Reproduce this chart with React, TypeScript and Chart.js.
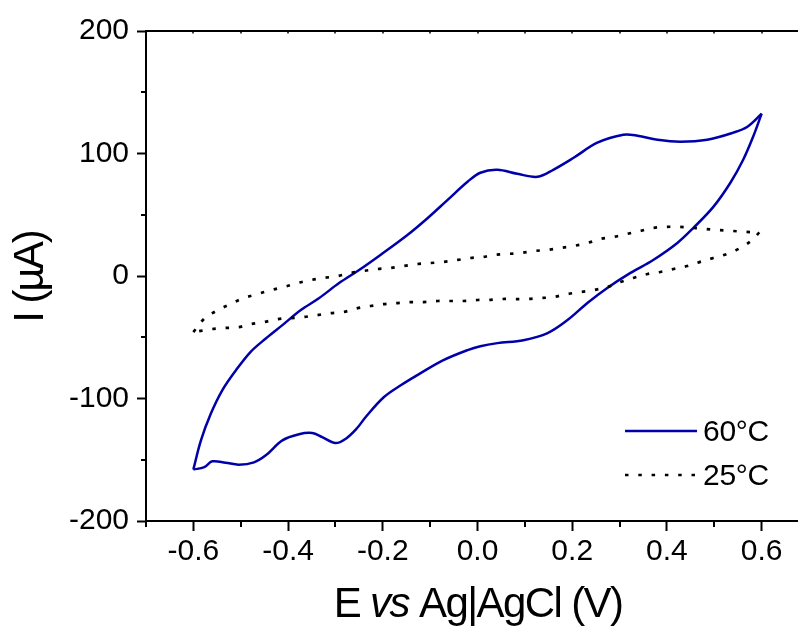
import React, { useEffect, useRef } from 'react';
import { Chart, registerables } from 'chart.js';

Chart.register(...registerables);

// ---- data ----
const xTickValues = [-0.6, -0.4, -0.2, 0, 0.2, 0.4, 0.6];
const xMinorTicks = [-0.7, -0.5, -0.3, -0.1, 0.1, 0.3, 0.5, 0.7];
const yTickValues = [-200, -100, 0, 100, 200];
const yMinorTicks = [-150, -50, 50, 150];

const seriesLabels = ['60°C', '25°C'];
const xTitleParts = ['E ', 'vs', ' Ag|AgCl (V)'];
const yTitle = 'I (µA)';

// 60 °C cyclic voltammogram: forward scan (-0.6 -> 0.6 V)
const hotFwdE = [
  -0.6, -0.584, -0.563, -0.539, -0.51, -0.479, -0.447, -0.412, -0.373, -0.335,
  -0.293, -0.25, -0.205, -0.148, -0.105, -0.063, -0.021, 0.006, 0.042, 0.084,
  0.127, 0.16, 0.203, 0.253, 0.308, 0.338, 0.38, 0.428, 0.485, 0.54,
  0.57, 0.6,
];
const hotFwdI = [
  -158, -134.2, -112.3, -93.3, -76.9, -61.9, -51.0, -40.1, -27.8, -18.2,
  -6.0, 4.9, 17.2, 33.5, 47.4, 62.2, 76.9, 84.3, 86.7, 83.4,
  81.0, 86.7, 96.5, 108.8, 115.3, 114.5, 111.2, 109.6, 111.2, 117.0,
  121.9, 132.5,
];
// 60 °C reverse scan (0.6 -> -0.6 V)
const hotRevE = [
  0.6, 0.582, 0.561, 0.534, 0.498, 0.456, 0.422, 0.371, 0.323, 0.274, 0.232,
  0.19, 0.148, 0.097, 0.042, 0.006, -0.021, -0.072, -0.12, -0.162, -0.198,
  -0.236, -0.255, -0.278, -0.3, -0.328, -0.349, -0.377, -0.412, -0.447, -0.472,
  -0.504, -0.532, -0.56, -0.577, -0.6,
];
const hotRevI = [
  132.5, 113.7, 94.9, 76.1, 56.4, 39.3, 27.0, 13.1, 2.5, -9.8, -22.1,
  -36.0, -46.6, -52.4, -54.8, -57.3, -60.5, -68.7, -79.3, -89.2, -99.0,
  -115.1, -124.5, -132.8, -136.4, -131.5, -128.2, -129.2, -134.2, -146.4, -152.1,
  -154, -152.4, -151.3, -156, -158,
];

// 25 °C forward scan
const coldFwdE = [
  -0.6, -0.576, -0.548, -0.52, -0.494, -0.464, -0.437, -0.409, -0.38, -0.352,
  -0.325, -0.295, -0.268, -0.241, -0.211, -0.184, -0.156, -0.127, -0.099, -0.072,
  -0.042, -0.015, 0.011, 0.034, 0.063, 0.091, 0.118, 0.148, 0.175, 0.203,
  0.232, 0.259, 0.287, 0.316, 0.344, 0.371, 0.397, 0.424, 0.454, 0.481,
  0.508, 0.538, 0.565, 0.595,
];
const coldFwdI = [
  -45.8, -34.5, -27.8, -22.6, -18.0, -14.7, -11.5, -9.0, -5.7, -3.3,
  -1.6, 0, 2.5, 4.1, 5.7, 6.5, 8.2, 9.8, 10.6, 11.5,
  13.1, 14.7, 15.5, 17.2, 18.0, 18.8, 20.4, 21.3, 22.9, 24.5,
  27.0, 30.3, 31.9, 34.4, 36.8, 39.3, 40.1, 40.1, 39.3, 38.4,
  37.6, 36.8, 36.0, 35.6,
];
// 25 °C reverse scan
const coldRevE = [
  0.595, 0.58, 0.555, 0.527, 0.498, 0.47, 0.443, 0.414, 0.386, 0.359, 0.329,
  0.302, 0.274, 0.245, 0.217, 0.19, 0.16, 0.133, 0.105, 0.076, 0.049,
  0.021, 0.0, -0.03, -0.057, -0.084, -0.114, -0.141, -0.169, -0.198, -0.226,
  -0.253, -0.283, -0.31, -0.338, -0.367, -0.395, -0.422, -0.451, -0.479, -0.504,
  -0.536, -0.563, -0.6,
];
const coldRevI = [
  35.6, 29.4, 22.9, 18.0, 14.7, 11.5, 8.2, 5.7, 3.3, 1.6, -1.6,
  -4.9, -9.0, -11.5, -13.1, -14.7, -17.2, -18.0, -18.8, -18.8, -18.8,
  -19.6, -19.6, -20.4, -20.4, -20.4, -21.3, -21.3, -22.1, -22.9, -24.5,
  -26.2, -29.4, -30.3, -31.9, -33.5, -34.4, -35.2, -37.6, -39.3, -41.7,
  -42.5, -43.4, -45.8,
];

const BLUE = 'rgb(0,0,170)';
const FONT = '"Liberation Sans", Arial, sans-serif';
const DOT_DASH = [3.5, 9.8];

const extrasPlugin = {
  id: 'extras',
  afterDraw(chart: any) {
    const { ctx, chartArea: ca } = chart;
    const x = chart.scales.x;
    const y = chart.scales.y;
    ctx.save();
    ctx.strokeStyle = '#000';
    ctx.lineWidth = 2;
    ctx.setLineDash([]);
    // top frame line
    ctx.beginPath();
    ctx.moveTo(ca.left - 1, ca.top);
    ctx.lineTo(ca.right + 2, ca.top);
    ctx.stroke();
    // minor x ticks
    for (const v of xMinorTicks) {
      const px = Math.round(x.getPixelForValue(v));
      ctx.beginPath();
      ctx.moveTo(px, ca.bottom);
      ctx.lineTo(px, ca.bottom + 6);
      ctx.stroke();
    }
    // tiny top ticks
    ctx.lineWidth = 1.5;
    for (const v of [...xTickValues, ...xMinorTicks]) {
      const px = Math.round(x.getPixelForValue(v));
      ctx.beginPath();
      ctx.moveTo(px, ca.top);
      ctx.lineTo(px, ca.top + 2.5);
      ctx.stroke();
    }
    ctx.lineWidth = 2;
    // minor y ticks
    for (const v of yMinorTicks) {
      const py = Math.round(y.getPixelForValue(v));
      ctx.beginPath();
      ctx.moveTo(ca.left, py);
      ctx.lineTo(ca.left - 5, py);
      ctx.stroke();
    }

    // y title (rotated)
    ctx.fillStyle = '#000';
    ctx.save();
    ctx.translate(31, 277);
    ctx.rotate(-Math.PI / 2);
    ctx.font = `42px ${FONT}`;
    (ctx as any).letterSpacing = '-2px';
    ctx.textAlign = 'center';
    ctx.textBaseline = 'middle';
    ctx.fillText(yTitle, 0, 0);
    ctx.restore();

    // x title with italic "vs"
    const fonts = [`42px ${FONT}`, `italic 42px ${FONT}`, `42px ${FONT}`];
    (ctx as any).letterSpacing = '-1.6px';
    let total = 0;
    const widths: number[] = [];
    xTitleParts.forEach((t, i) => {
      ctx.font = fonts[i];
      const w = ctx.measureText(t).width;
      widths.push(w);
      total += w;
    });
    let cx = 478 - total / 2;
    ctx.textAlign = 'left';
    ctx.textBaseline = 'alphabetic';
    xTitleParts.forEach((t, i) => {
      ctx.font = fonts[i];
      ctx.fillText(t, cx, 617);
      cx += widths[i];
    });
    (ctx as any).letterSpacing = '0px';

    // legend
    const rows = [
      { y: 431, color: BLUE, width: 2.5, dash: [] as number[] },
      { y: 475, color: '#000', width: 2.7, dash: DOT_DASH },
    ];
    rows.forEach((r, i) => {
      ctx.strokeStyle = r.color;
      ctx.lineWidth = r.width;
      ctx.setLineDash(r.dash);
      ctx.beginPath();
      ctx.moveTo(625, r.y);
      ctx.lineTo(697, r.y);
      ctx.stroke();
      ctx.setLineDash([]);
      ctx.font = `30px ${FONT}`;
      ctx.fillStyle = '#000';
      (ctx as any).letterSpacing = '-0.3px';
      ctx.fillText(seriesLabels[i], 703, r.y + 10);
      (ctx as any).letterSpacing = '0px';
    });
    ctx.restore();
  },
};

export default function App() {
  const ref = useRef<HTMLCanvasElement | null>(null);

  useEffect(() => {
    if (!ref.current) return;
    const pts = (xs: number[], ys: number[]) => xs.map((e, i) => ({ x: e, y: ys[i] }));
    const line = (label: string, data: any[], color: string, width: number, dash: number[], order: number) => ({
      label,
      data,
      showLine: true,
      borderColor: color,
      borderWidth: width,
      borderDash: dash,
      pointRadius: 0,
      tension: 0.35,
      order,
    });
    const chart = new Chart(ref.current, {
      type: 'scatter',
      data: {
        datasets: [
          line(seriesLabels[0], pts(hotFwdE, hotFwdI), BLUE, 2.5, [], 2),
          line(seriesLabels[0], pts(hotRevE, hotRevI), BLUE, 2.5, [], 2),
          line(seriesLabels[1], pts(coldFwdE, coldFwdI), '#000', 2.7, DOT_DASH, 1),
          line(seriesLabels[1], pts(coldRevE, coldRevI), '#000', 2.7, DOT_DASH, 1),
        ],
      },
      options: {
        responsive: false,
        animation: false,
        devicePixelRatio: 1,
        layout: { padding: { top: 31, left: 0, right: 21, bottom: 0 } },
        plugins: {
          legend: { display: false },
          tooltip: { enabled: false },
          title: { display: false },
        },
        scales: {
          x: {
            type: 'linear',
            position: 'bottom',
            min: -0.7,
            max: 0.7,
            afterBuildTicks: (axis: any) => {
              axis.ticks = xTickValues.map((v) => ({ value: v }));
            },
            afterFit: (axis: any) => {
              axis.height = 105;
            },
            ticks: {
              color: '#000',
              font: { family: FONT, size: 30 },
              padding: 3,
              maxRotation: 0,
              autoSkip: false,
              callback: (v: any) => Number(v).toFixed(1),
            },
            grid: {
              display: true,
              drawOnChartArea: false,
              drawTicks: true,
              tickLength: 10,
              tickWidth: 2,
              tickColor: '#000',
            },
            border: { display: true, color: '#000', width: 2 },
          },
          y: {
            type: 'linear',
            position: 'left',
            min: -200,
            max: 200,
            afterBuildTicks: (axis: any) => {
              axis.ticks = yTickValues.map((v) => ({ value: v }));
            },
            afterFit: (axis: any) => {
              axis.width = 146;
            },
            ticks: {
              color: '#000',
              font: { family: FONT, size: 30 },
              padding: 8,
              autoSkip: false,
              callback: (v: any) => String(v),
            },
            grid: {
              display: true,
              drawOnChartArea: false,
              drawTicks: true,
              tickLength: 9,
              tickWidth: 2,
              tickColor: '#000',
            },
            border: { display: true, color: '#000', width: 2 },
          },
        },
      },
      plugins: [extrasPlugin],
    } as any);
    return () => chart.destroy();
  }, []);

  return (
    <div
      style={{
        position: 'fixed',
        left: 0,
        top: 0,
        width: 798,
        height: 626,
        overflow: 'hidden',
        background: '#fff',
      }}
    >
      <canvas ref={ref} width={830} height={626} style={{ display: 'block', width: 830, height: 626 }} />
    </div>
  );
}
